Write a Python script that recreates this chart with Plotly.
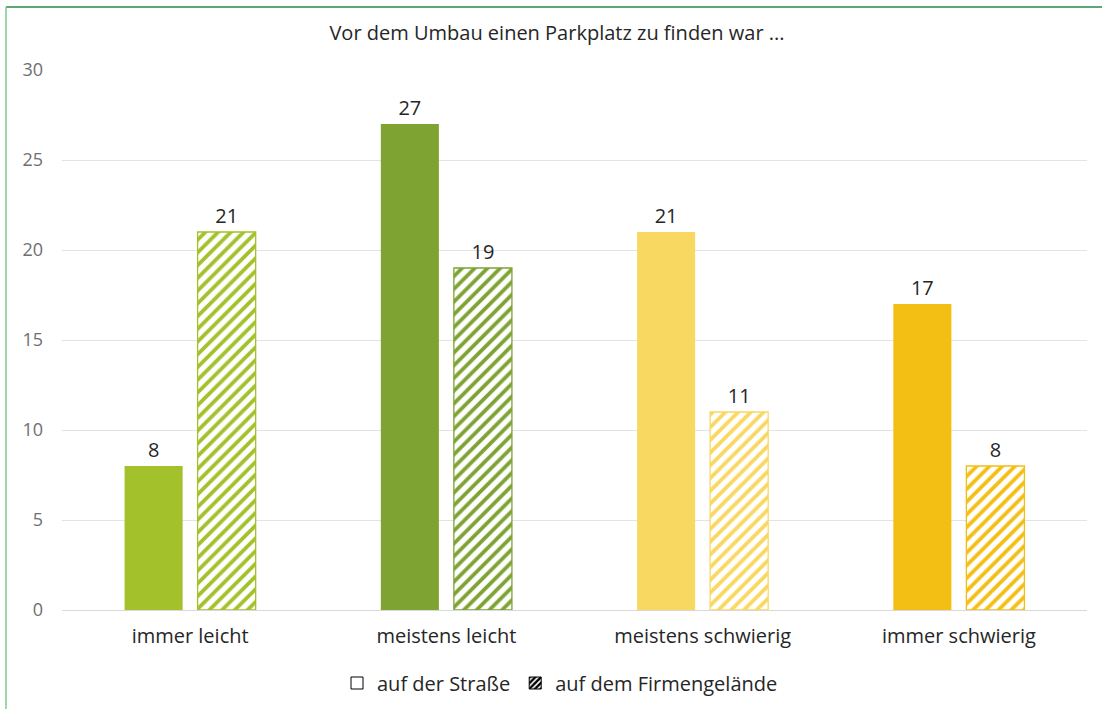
import plotly.graph_objects as go

categories = ["immer leicht", "meistens leicht", "meistens schwierig", "immer schwierig"]
strasse = [8, 27, 21, 17]
firmengelaende = [21, 19, 11, 8]
series_names = ["auf der Straße", "auf dem Firmengelände"]
bar_colors = ["#A3C12B", "#7EA333", "#F9D862", "#F4BF14"]
y_ticks = [0, 5, 10, 15, 20, 25, 30]

FONT = "Open Sans"
WEIGHT = 400
W, H = 1102, 709
L, R, T, B = 62, 15, 70, 99
plot_w = W - L - R
plot_h = H - T - B


def px_x(x):
    return (x - L) / plot_w


def px_y(y):
    return (H - B - y) / plot_h


fig = go.Figure()

# street: solid bars
fig.add_trace(go.Bar(
    x=categories, y=strasse, name=series_names[0], offsetgroup="a",
    marker=dict(color=bar_colors, line=dict(width=0)),
    text=strasse, textposition="outside",
    textfont=dict(family=FONT, size=20, color="#262626", weight=WEIGHT),
    cliponaxis=False, showlegend=False,
))

# company grounds: hatched bars
fig.add_trace(go.Bar(
    x=categories, y=firmengelaende, name=series_names[1], offsetgroup="b",
    marker=dict(
        color="white",
        line=dict(color=bar_colors, width=1.3),
        pattern=dict(shape="/", fgcolor=bar_colors, bgcolor="white",
                     fgopacity=1, size=9, solidity=0.42, fillmode="replace"),
    ),
    text=firmengelaende, textposition="outside",
    textfont=dict(family=FONT, size=20, color="#262626", weight=WEIGHT),
    cliponaxis=False, showlegend=False,
))

# legend entries in neutral black/white
fig.add_trace(go.Bar(
    x=[categories[0]], y=[None], name=series_names[0], offsetgroup="a",
    marker=dict(color="white", line=dict(color="black", width=1)),
    showlegend=True, hoverinfo="skip",
))
fig.add_trace(go.Bar(
    x=[categories[0]], y=[None], name=series_names[1], offsetgroup="b",
    marker=dict(color="white", line=dict(color="black", width=1),
                pattern=dict(shape="/", fgcolor="black", bgcolor="white",
                             fgopacity=1, size=5, solidity=0.6,
                             fillmode="replace")),
    showlegend=True, hoverinfo="skip",
))

# green frame edges (top and left)
fig.add_shape(type="line", xref="paper", yref="paper",
              x0=px_x(6), x1=px_x(W + 5), y0=px_y(7), y1=px_y(7),
              line=dict(color="#2A8A43", width=1.5), layer="above")
fig.add_shape(type="line", xref="paper", yref="paper",
              x0=px_x(6), x1=px_x(6), y0=px_y(7), y1=px_y(H + 5),
              line=dict(color="#7CC98C", width=1.5), layer="above")

fig.update_layout(
    width=W, height=H,
    margin=dict(l=L, r=R, t=T, b=B, autoexpand=False),
    paper_bgcolor="white", plot_bgcolor="white",
    barmode="group", bargap=0.43, bargroupgap=0.205,
    title=dict(text="Vor dem Umbau einen Parkplatz zu finden war ...",
               x=557 / W, xanchor="center", y=1 - 33 / H, yanchor="middle",
               font=dict(family=FONT, size=20, color="#262626", weight=WEIGHT)),
    font=dict(family=FONT),
    legend=dict(orientation="h", x=560 / W, xanchor="center",
                xref="container", yref="container",
                y=1 - 683 / H, yanchor="middle",
                font=dict(family=FONT, size=20, color="#262626", weight=WEIGHT),
                itemwidth=30, traceorder="normal"),
    yaxis=dict(range=[0, 30], tickvals=y_ticks, showgrid=True,
               gridcolor="#E3E3E3", gridwidth=1, zeroline=False,
               showline=False, ticks="", ticklabelstandoff=18,
               tickfont=dict(family=FONT, size=18, color="#6F6F6F",
                             weight=WEIGHT)),
    xaxis=dict(showline=True, linecolor="#D9D9D9", linewidth=1, ticks="",
               ticklabelstandoff=8,
               tickfont=dict(family=FONT, size=20, color="#262626",
                             weight=WEIGHT)),
)

fig.write_html("out.html")
